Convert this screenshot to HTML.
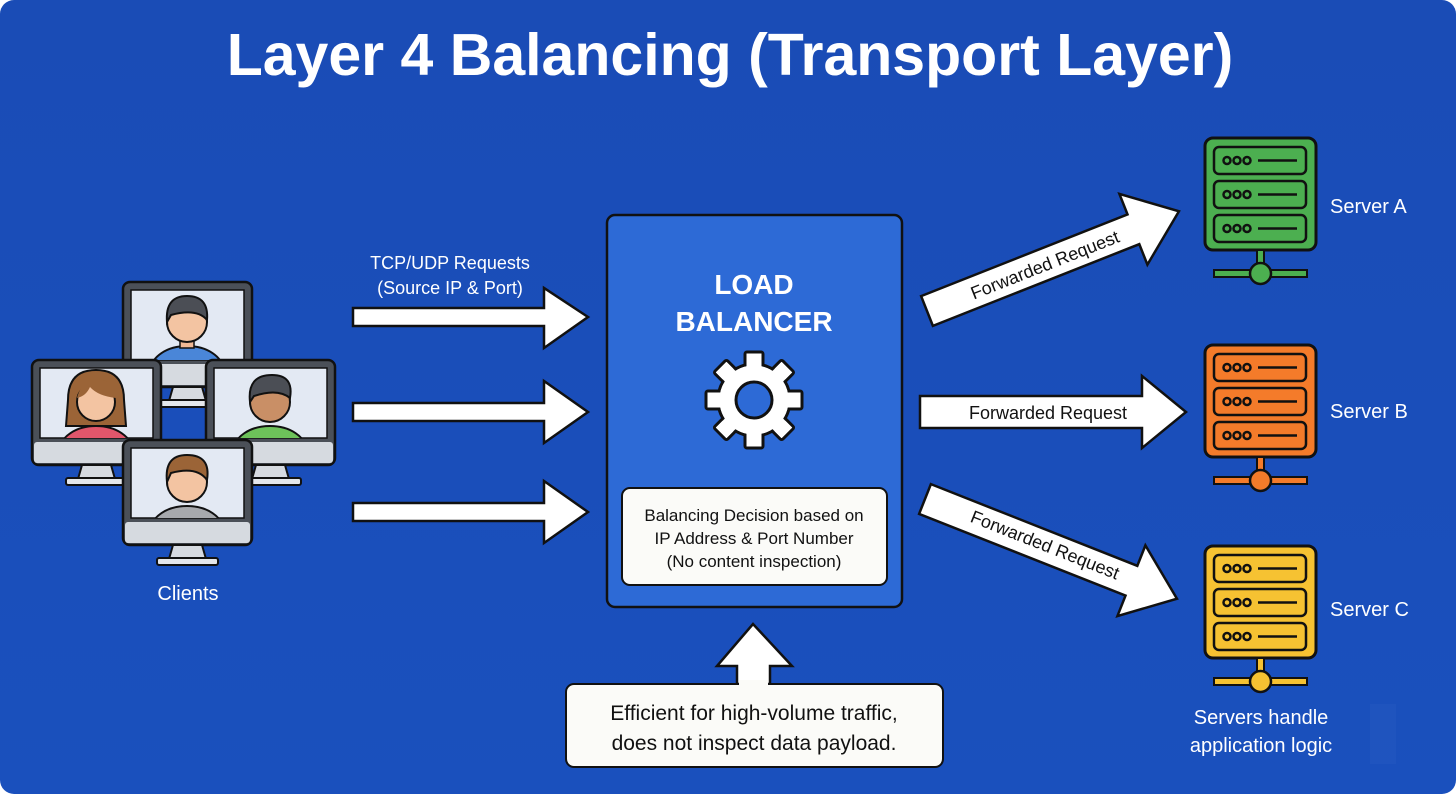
<!DOCTYPE html>
<html><head><meta charset="utf-8"><style>
html,body{margin:0;padding:0;background:#fff;}
svg{display:block;}
text{font-family:"Liberation Sans",sans-serif;}
</style></head><body>
<svg width="1456" height="794" viewBox="0 0 1456 794" xmlns="http://www.w3.org/2000/svg">
<defs>
<linearGradient id="bg" x1="0" y1="0" x2="0" y2="1"><stop offset="0" stop-color="#1a4cb6"/><stop offset="1" stop-color="#1a50bd"/></linearGradient>
<g id="mon">
  <rect x="0" y="0" width="129" height="105" rx="7" fill="#4b5058" stroke="#111" stroke-width="2.5"/>
  <rect x="8" y="8" width="113" height="70" fill="#e3e9f3" stroke="#111" stroke-width="1.5"/>
  <rect x="2" y="82" width="125" height="21" rx="3" fill="#d6dae0"/>
  <polygon points="50,105 79,105 83,119 46,119" fill="#d6dae0" stroke="#111" stroke-width="2"/>
  <rect x="34" y="118" width="61" height="7" rx="2" fill="#e4e7eb" stroke="#111" stroke-width="2"/>
</g>
<g id="srv">
  <rect x="0" y="0" width="111" height="112" rx="8" stroke="#111" stroke-width="3"/>
  <g fill="none" stroke="#111" stroke-width="2.5">
   <rect x="9" y="9" width="92" height="27" rx="5"/><rect x="9" y="43" width="92" height="27" rx="5"/><rect x="9" y="77" width="92" height="27" rx="5"/>
   <circle cx="22" cy="22.5" r="3.5"/><circle cx="32" cy="22.5" r="3.5"/><circle cx="42" cy="22.5" r="3.5"/>
   <circle cx="22" cy="56.5" r="3.5"/><circle cx="32" cy="56.5" r="3.5"/><circle cx="42" cy="56.5" r="3.5"/>
   <circle cx="22" cy="90.5" r="3.5"/><circle cx="32" cy="90.5" r="3.5"/><circle cx="42" cy="90.5" r="3.5"/>
   <line x1="53" y1="22.5" x2="92" y2="22.5"/><line x1="53" y1="56.5" x2="92" y2="56.5"/><line x1="53" y1="90.5" x2="92" y2="90.5"/>
  </g>
  <rect x="52" y="112" width="7" height="20" stroke="#111" stroke-width="2"/>
  <rect x="9" y="132" width="93" height="7" stroke="#111" stroke-width="2"/>
  <circle cx="55.5" cy="135.5" r="10.5" stroke="#111" stroke-width="2.5"/>
</g>
</defs>
<rect x="0" y="0" width="1456" height="794" rx="14" fill="url(#bg)"/>
<text x="730" y="75" text-anchor="middle" font-size="59" font-weight="bold" fill="#fff">Layer 4 Balancing (Transport Layer)</text>

<!-- clients -->
<g transform="translate(123,282)"><use href="#mon"/>
  <clipPath id="c1"><rect x="8" y="8" width="113" height="70"/></clipPath>
  <g clip-path="url(#c1)"><ellipse cx="64" cy="88" rx="36" ry="24" fill="#4a86d8" stroke="#111" stroke-width="2"/><rect x="57" y="52" width="14" height="14" fill="#f0b894" stroke="#111" stroke-width="1.5"/></g>
  <circle cx="64" cy="40" r="20" fill="#f3c4a2" stroke="#111" stroke-width="2"/><path d="M44 40 Q42 14 64 14 Q86 14 84 38 Q74 26 48 33 Z" fill="#4b4e55" stroke="#111" stroke-width="2"/></g>
<g transform="translate(32,360)"><use href="#mon"/>
  <clipPath id="c2"><rect x="8" y="8" width="113" height="70"/></clipPath>
  <g clip-path="url(#c2)"><path d="M36 40 Q36 10 64 10 Q92 10 92 40 L94 66 L34 66 Z" fill="#9b6437" stroke="#111" stroke-width="2"/><ellipse cx="64" cy="90" rx="36" ry="24" fill="#e2566b" stroke="#111" stroke-width="2"/></g>
  <circle cx="64" cy="42" r="19" fill="#f3c4a2" stroke="#111" stroke-width="2"/><path d="M45 38 Q50 19 64 19 Q82 19 84 38 Q66 36 58 27 Q54 36 45 38Z" fill="#9b6437"/></g>
<g transform="translate(206,360)"><use href="#mon"/>
  <clipPath id="c3"><rect x="8" y="8" width="113" height="70"/></clipPath>
  <g clip-path="url(#c3)"><ellipse cx="64" cy="90" rx="36" ry="24" fill="#6dc25a" stroke="#111" stroke-width="2"/></g>
  <circle cx="64" cy="42" r="20" fill="#c98f66" stroke="#111" stroke-width="2"/><path d="M44 42 Q41 15 66 15 Q88 15 84 38 Q72 28 48 36 Z" fill="#4b4e55" stroke="#111" stroke-width="2"/></g>
<g transform="translate(123,440)"><use href="#mon"/>
  <clipPath id="c4"><rect x="8" y="8" width="113" height="70"/></clipPath>
  <g clip-path="url(#c4)"><ellipse cx="64" cy="90" rx="36" ry="24" fill="#a7a9ad" stroke="#111" stroke-width="2"/></g>
  <circle cx="64" cy="42" r="20" fill="#f3c4a2" stroke="#111" stroke-width="2"/><path d="M44 42 Q41 15 64 15 Q88 15 84 40 Q74 26 48 33 Z" fill="#9b6437" stroke="#111" stroke-width="2"/></g>
<text x="188" y="600" text-anchor="middle" font-size="20" fill="#fff">Clients</text>

<!-- left arrows -->
<text x="450" y="269" text-anchor="middle" font-size="18" fill="#fff">TCP/UDP Requests</text>
<text x="450" y="294" text-anchor="middle" font-size="18" fill="#fff">(Source IP &amp; Port)</text>
<g fill="#fff" stroke="#111" stroke-width="2.5" stroke-linejoin="miter">
<polygon points="353,308 544,308 544,288 588,317 544,348 544,326 353,326"/>
<polygon points="353,403 544,403 544,381 588,412 544,443 544,421 353,421"/>
<polygon points="353,503 544,503 544,481 588,512 544,543 544,521 353,521"/>
</g>

<!-- load balancer -->
<rect x="607" y="215" width="295" height="392" rx="8" fill="#2d6ad6" stroke="#111" stroke-width="2.5"/>
<text x="754" y="294" text-anchor="middle" font-size="28" font-weight="bold" fill="#fff">LOAD</text>
<text x="754" y="331" text-anchor="middle" font-size="28" font-weight="bold" fill="#fff">BALANCER</text>
<g transform="translate(754,400)">
 <g fill="#fff" stroke="#111" stroke-width="3">
  <rect x="-9" y="-48" width="18" height="96" rx="2"/>
  <rect x="-9" y="-48" width="18" height="96" rx="2" transform="rotate(45)"/>
  <rect x="-9" y="-48" width="18" height="96" rx="2" transform="rotate(90)"/>
  <rect x="-9" y="-48" width="18" height="96" rx="2" transform="rotate(135)"/>
  <circle r="36"/>
 </g>
 <g fill="#fff">
  <rect x="-7.5" y="-46.5" width="15" height="93"/>
  <rect x="-7.5" y="-46.5" width="15" height="93" transform="rotate(45)"/>
  <rect x="-7.5" y="-46.5" width="15" height="93" transform="rotate(90)"/>
  <rect x="-7.5" y="-46.5" width="15" height="93" transform="rotate(135)"/>
  <circle r="34.5"/>
 </g>
 <circle r="18" fill="#2d6ad6" stroke="#111" stroke-width="3"/>
</g>
<rect x="622" y="488" width="265" height="97" rx="8" fill="#fbfbf8" stroke="#111" stroke-width="2"/>
<text x="754" y="521" text-anchor="middle" font-size="17" fill="#111">Balancing Decision based on</text>
<text x="754" y="544" text-anchor="middle" font-size="17" fill="#111">IP Address &amp; Port Number</text>
<text x="754" y="567" text-anchor="middle" font-size="17" fill="#111">(No content inspection)</text>

<!-- up arrow + note -->
<polygon points="737,684 737,666 717,666 753,624 792,666 770,666 770,684" fill="#fff" stroke="#111" stroke-width="2.5"/>
<rect x="566" y="684" width="377" height="83" rx="8" fill="#fbfbf8" stroke="#111" stroke-width="2"/>
<rect x="739" y="680" width="29" height="8" fill="#fbfbf8"/>
<text x="754" y="720" text-anchor="middle" font-size="21" fill="#111">Efficient for high-volume traffic,</text>
<text x="754" y="750" text-anchor="middle" font-size="21" fill="#111">does not inspect data payload.</text>

<!-- right arrows -->
<g fill="#fff" stroke="#111" stroke-width="2.5">
<polygon points="920,396 1142,396 1142,376 1186,412 1142,448 1142,428 920,428"/>
<g transform="translate(927,311) rotate(-21.6)">
 <polygon points="0,-16 222,-16 222,-38 271,0 222,38 222,16 0,16"/>
</g>
<g transform="translate(925,499) rotate(21.6)">
 <polygon points="0,-16 222,-16 222,-38 271,0 222,38 222,16 0,16"/>
</g>
</g>
<text x="1048" y="419" text-anchor="middle" font-size="18" fill="#111">Forwarded Request</text>
<g transform="translate(1045,265) rotate(-21.6)"><text x="0" y="6" text-anchor="middle" font-size="18" fill="#111">Forwarded Request</text></g>
<g transform="translate(1045,545) rotate(21.6)"><text x="0" y="6" text-anchor="middle" font-size="18" fill="#111">Forwarded Request</text></g>

<!-- servers -->
<g transform="translate(1205,138)" fill="#4caf50"><use href="#srv"/></g>
<g transform="translate(1205,345)" fill="#f47b2a"><use href="#srv"/></g>
<g transform="translate(1205,546)" fill="#f6c232"><use href="#srv"/></g>
<text x="1330" y="213" font-size="20" fill="#fff">Server A</text>
<text x="1330" y="418" font-size="20" fill="#fff">Server B</text>
<text x="1330" y="616" font-size="20" fill="#fff">Server C</text>
<text x="1261" y="724" text-anchor="middle" font-size="20" fill="#fff">Servers handle</text>
<text x="1261" y="752" text-anchor="middle" font-size="20" fill="#fff">application logic</text>
<rect x="1370" y="704" width="26" height="60" fill="#2a5cc4" opacity="0.35"/>
</svg>
</body></html>
